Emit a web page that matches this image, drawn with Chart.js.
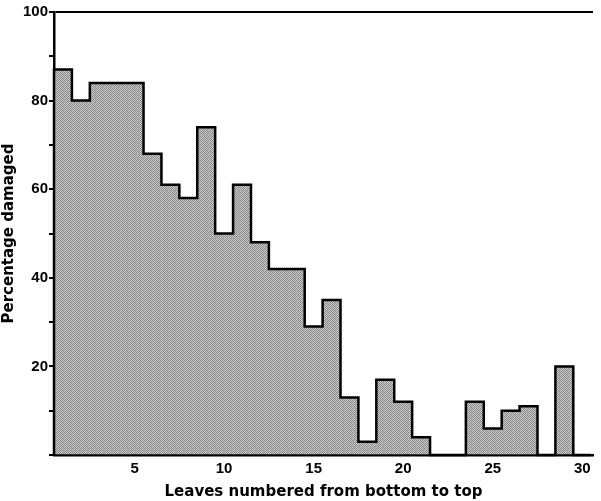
<!DOCTYPE html>
<html>
<head>
<meta charset="utf-8">
<script src="https://cdn.jsdelivr.net/npm/chart.js@4"></script>
<style>
  body { margin: 0; background: #fff; }
  #chart { display: block; }
</style>
</head>
<body>
<canvas id="chart" width="601" height="501"></canvas>
<script>
const leaves = [1, 2, 3, 4, 5, 6, 7, 8, 9, 10, 11, 12, 13, 14, 15, 16, 17, 18, 19, 20, 21, 22, 23, 24, 25, 26, 27, 28, 29, 30];
const damaged = [87, 80, 84, 84, 84, 68, 61, 58, 74, 50, 61, 48, 42, 42, 29, 35, 13, 3, 17, 12, 4, 0, 0, 12, 6, 10, 11, 0, 20, 0];
const xTicks = [5, 10, 15, 20, 25, 30];
const yLabelled = [20, 40, 60, 80, 100];

// grainy grey fill, roughly like the printed screen
const makeFill = () => {
    const c = document.createElement('canvas');
    c.width = 4;
    c.height = 4;
    const g = c.getContext('2d');
    const shades = [
        ['#808080', '#cacaca', '#949494', '#c0c0c0'],
        ['#c4c4c4', '#8e8e8e', '#d0d0d0', '#888888'],
        ['#9a9a9a', '#c8c8c8', '#828282', '#bcbcbc'],
        ['#cccccc', '#8c8c8c', '#c2c2c2', '#949494']
    ];
    shades.forEach((row, y) => row.forEach((col, x) => {
        g.fillStyle = col;
        g.fillRect(x, y, 1, 1);
    }));
    return g.createPattern(c, 'repeat');
};

// stepped outline through the bin edges
const outline = [{x: leaves[0] - 0.5, y: 0}];
leaves.forEach((leaf, i) => outline.push({x: leaf - 0.5, y: damaged[i]}));
outline.push({x: leaves[leaves.length - 1] + 0.5, y: 0});

const tickFont = {family: 'Liberation Sans', size: 15, weight: 'bold'};
const titleFont = {family: 'DejaVu Sans', size: 15, weight: 'bold'};

const ctx = document.querySelector('#chart').getContext('2d');
new Chart(ctx, {
    data: {
        datasets: [
            {
                type: 'line',
                data: outline,
                stepped: 'before',
                borderColor: '#000',
                borderWidth: 2.5,
                pointRadius: 0,
                fill: false,
                clip: false,
                order: 0
            },
            {
                type: 'bar',
                data: leaves.map((leaf, i) => ({x: leaf, y: damaged[i]})),
                backgroundColor: makeFill(),
                borderWidth: 0,
                barPercentage: 1,
                categoryPercentage: 1,
                order: 1
            }
        ]
    },
    options: {
        responsive: false,
        animation: false,
        layout: {padding: {top: 12, right: 8, left: 0, bottom: 0}},
        plugins: {legend: {display: false}, tooltip: {enabled: false}},
        scales: {
            x: {
                type: 'linear',
                offset: false,
                min: 0.5,
                max: 30.6,
                afterBuildTicks: (scale) => { scale.ticks = xTicks.map((v) => ({value: v})); },
                afterFit: (scale) => { scale.height = 46; },
                grid: {display: false, drawTicks: false},
                border: {display: true, color: '#000', width: 2.5},
                ticks: {color: '#000', font: tickFont, padding: 5, maxRotation: 0},
                title: {display: true, text: 'Leaves numbered from bottom to top', color: '#000', font: titleFont, padding: {top: 3, bottom: 0}}
            },
            y: {
                min: 0,
                max: 100,
                afterFit: (scale) => { scale.width = 54; },
                grid: {
                    color: (c) => (c.tick && c.tick.value === 100 ? '#000' : 'rgba(0,0,0,0)'),
                    tickColor: '#000',
                    lineWidth: 2,
                    tickLength: 5
                },
                border: {display: true, color: '#000', width: 2.5},
                ticks: {
                    stepSize: 10,
                    color: '#000',
                    font: tickFont,
                    padding: 1,
                    callback: (v) => (yLabelled.includes(v) ? v : '')
                },
                title: {display: true, text: 'Percentage damaged', color: '#000', font: titleFont, padding: {top: 0, bottom: 1}}
            }
        }
    }
});
</script>
</body>
</html>
